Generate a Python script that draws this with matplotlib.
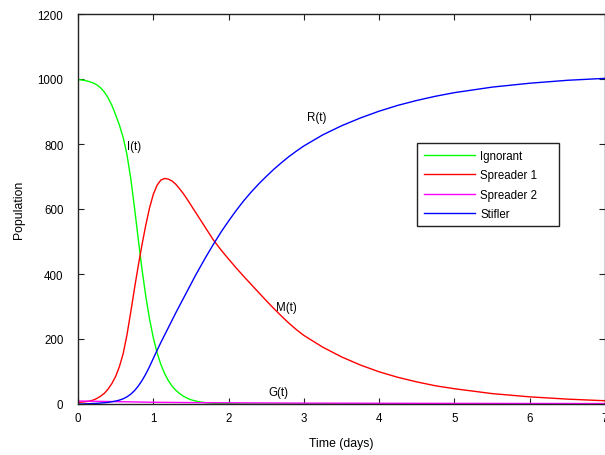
import matplotlib
matplotlib.use('Agg')
import matplotlib.pyplot as plt
from matplotlib.patches import Rectangle

plt.rcParams['font.family'] = ['Liberation Sans', 'DejaVu Sans']

# Values
t_days = [0, 0.05, 0.1, 0.15, 0.2, 0.25, 0.3, 0.35, 0.4, 0.45, 0.5, 0.55, 0.6, 0.65,
          0.7, 0.75, 0.8, 0.85, 0.9, 0.95, 1.0, 1.05, 1.1, 1.15, 1.2, 1.25, 1.3, 1.35,
          1.4, 1.45, 1.5, 1.55, 1.6,
          1.7, 1.8, 1.9, 2.0, 2.1, 2.2, 2.3, 2.4, 2.5, 2.6, 2.7, 2.8, 2.9, 3.0,
          3.25, 3.5, 3.75, 4.0, 4.25, 4.5, 4.75, 5.0,
          5.5, 6.0, 6.5, 7.0]

ignorant = [998, 997, 995, 992, 988, 982, 973, 960, 942, 919, 890, 858, 820, 768,
            695, 605, 508, 415, 332, 262, 204, 158, 122, 94, 72, 55, 42, 32,
            24, 18, 13, 10, 7,
            4, 2, 1, 1, 0.5, 0, 0, 0, 0, 0, 0, 0, 0, 0,
            0, 0, 0, 0, 0, 0, 0, 0,
            0, 0, 0, 0]

spreader1 = [5, 6, 7, 9, 12, 17, 24, 33, 46, 63, 85, 115, 155, 212,
             282, 355, 425, 490, 550, 603, 645, 673, 689, 694, 692, 686, 676, 662,
             647, 630, 612, 594, 576,
             540, 504, 474, 446, 419, 393, 368, 343, 318, 294, 271, 249, 229, 211,
             175, 145, 120, 99, 82, 68, 56, 47,
             32, 22, 15, 10]

spreader2 = [9, 9, 8.9, 8.7, 8.5, 8.3, 8.1, 7.9, 7.7, 7.5, 7.3, 7.1, 6.9, 6.7,
             6.5, 6.3, 6.1, 5.9, 5.7, 5.5, 5.3, 5.2, 5.1, 5.0, 4.9, 4.8, 4.7, 4.6,
             4.5, 4.4, 4.3, 4.2, 4.1,
             4.0, 3.9, 3.8, 3.7, 3.6, 3.5, 3.4, 3.3, 3.2, 3.1, 3.0, 2.9, 2.8, 2.7,
             2.6, 2.5, 2.4, 2.3, 2.2, 2.1, 2.0, 1.9,
             1.8, 1.6, 1.5, 1.4]

stifler = [0, 0, 0.5, 1, 1.5, 2, 3, 4, 5, 7, 9, 12, 16, 22,
           30, 41, 55, 72, 92, 115, 140, 165, 189, 212, 235, 258, 281, 303,
           325, 347, 369, 391, 412,
           453, 492, 529, 563, 595, 625, 652, 677, 700, 722, 742, 761, 778, 794,
           828, 856, 880, 901, 919, 934, 947, 958,
           975, 987, 996, 1002]

series_names = ['Ignorant', 'Spreader 1', 'Spreader 2', 'Stifler']
series_colors = ['#00ff00', '#ff0000', '#ff00ff', '#0000ff']

curve_labels = ['I(t)', 'R(t)', 'M(t)', 'G(t)']
curve_label_x = [0.65, 3.04, 2.63, 2.53]
curve_label_y = [794, 883, 298, 37]

fs = 8.3

fig = plt.figure(figsize=(6.05, 4.56), dpi=100)
ax = fig.add_axes([78 / 605, 51 / 456, 527 / 605, 390 / 456])

for data, name, col in zip([ignorant, spreader1, spreader2, stifler], series_names, series_colors):
    ax.plot(t_days, data, color=col, lw=1.0, label=name)

for txt, x, y in zip(curve_labels, curve_label_x, curve_label_y):
    ax.text(x, y, txt, fontsize=fs, ha='left', va='center')

ax.set_xlim(0, 7)
ax.set_ylim(0, 1200)
ax.set_xticks(range(0, 8))
ax.set_yticks(range(0, 1201, 200))

ax.tick_params(axis='both', direction='in', length=4, width=0.8, labelsize=fs,
               top=True, right=True, color='#222222')
ax.tick_params(axis='y', pad=10.5)
ax.tick_params(axis='x', pad=6)
for sp in ax.spines.values():
    sp.set_color('#222222')
    sp.set_linewidth(1.0)

ax.set_xlabel('Time (days)', fontsize=fs + 0.5, labelpad=9)
ax.set_ylabel('Population', fontsize=fs + 0.5, labelpad=9)

# legend entries without frame, plus a wider MATLAB-style box behind them
leg = ax.legend(loc='upper left', bbox_to_anchor=(417 / 605, 1 - 144 / 456),
                bbox_transform=fig.transFigure, borderaxespad=0, fontsize=fs,
                frameon=False, handlelength=4.4, handletextpad=0.5,
                labelspacing=0.65, borderpad=0.6)
box = Rectangle((417 / 605, 1 - 227 / 456), 142 / 605, 83 / 456,
                transform=fig.transFigure, facecolor='white', edgecolor='#222222',
                linewidth=1.0, zorder=4)
ax.add_artist(box)
leg.set_zorder(5)

fig.savefig('out.png', dpi=100)
